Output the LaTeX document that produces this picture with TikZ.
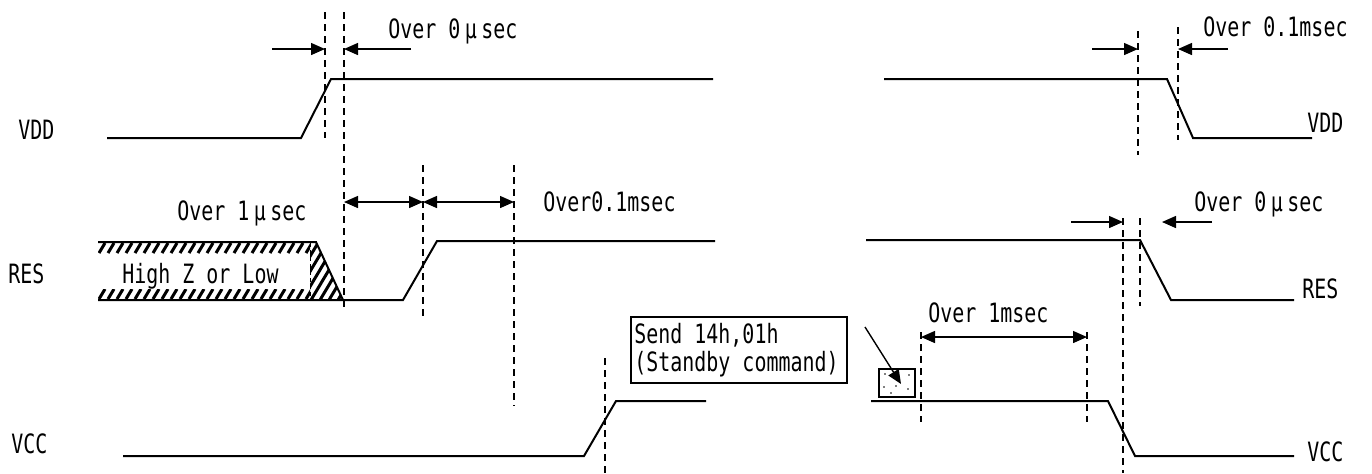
\documentclass[tikz,border=0pt]{standalone}
\usepackage{fontspec}
\setmainfont[FakeStretch=0.75]{DejaVu Sans Mono}
\usetikzlibrary{arrows.meta}
\tikzset{
  sig/.style={line width=1pt},
  guide/.style={line width=0.7pt,dash pattern=on 3.5pt off 2.5pt},
  dim/.style={line width=0.7pt,-{Triangle[length=7pt,width=6pt]}},
  dimboth/.style={line width=0.7pt,{Triangle[length=7pt,width=6pt]}-{Triangle[length=7pt,width=6pt]}},
  lbl/.style={font=\fontsize{13.3pt}{14pt}\selectfont,inner sep=0pt,anchor=west},
  hatch/.style={line width=1.5pt}
}
\begin{document}
\begin{tikzpicture}[x=0.5pt,y=0.5pt,yscale=-1,xscale=1]
\useasboundingbox (0,0) rectangle (1372,473);

%Signals: power on
\draw [sig] (107,138) -- (301,138) -- (331,79) -- (713,79) ;
\draw [sig] (98,242) -- (316,242) -- (343,300) ;
\draw [sig] (98,300) -- (403,300) -- (437,241) -- (715,241) ;
\draw [sig] (123,456) -- (584,456) -- (616,401) -- (706,401) ;

%Signals: power off
\draw [sig] (884,79) -- (1167,79) -- (1193,138) -- (1312,138) ;
\draw [sig] (866,240) -- (1140,240) -- (1171,300) -- (1294,300) ;
\draw [sig] (871,401) -- (1108,401) -- (1135,456) -- (1294,456) ;

%Hatching: High Z or Low
\begin{scope}
\clip (98,243) rectangle (310,253) ;
\foreach \i in {90,99,...,315} \draw [hatch] (\i,253) -- ++(6,-10) ;
\end{scope}
\begin{scope}
\clip (98,289) rectangle (310,299) ;
\foreach \i in {90,99,...,315} \draw [hatch] (\i,299) -- ++(6,-10) ;
\end{scope}
\begin{scope}
\clip (310,242) -- (316,242) -- (343,300) -- (310,300) -- cycle ;
\foreach \i in {266,275,...,350} \draw [hatch] (\i,300) -- ++(34,-57) ;
\end{scope}
\draw [line width=0.5pt,dash pattern=on 2pt off 1.5pt] (310,243) -- (310,300) ;

%Dashed guides
\draw [guide] (325,12) -- (325,138) ;
\draw [guide] (344,12) -- (344,310) ;
\draw [guide] (423,165) -- (423,317) ;
\draw [guide] (514,165) -- (514,406) ;
\draw [guide] (605,358) -- (605,473) ;
\draw [guide] (1138,31) -- (1138,155) ;
\draw [guide] (1178,27) -- (1178,140) ;
\draw [guide] (1123,218) -- (1123,473) ;
\draw [guide] (1140,218) -- (1140,306) ;
\draw [guide] (921,332) -- (921,422) ;
\draw [guide] (1087,332) -- (1087,422) ;

%Timing arrows
\draw [dim] (272,49) -- (325,49) ;
\draw [dim] (411,49) -- (344,49) ;
\draw [dimboth] (344,202) -- (423,202) ;
\draw [dimboth] (423,202) -- (514,202) ;
\draw [dim] (1092,49) -- (1138,49) ;
\draw [dim] (1228,49) -- (1178,49) ;
\draw [dim] (1071,222) -- (1123,222) ;
\draw [dim] (1212,222) -- (1162,222) ;
\draw [dimboth] (921,337) -- (1087,337) ;

%Command box
\draw [line width=0.7pt] (631,317) rectangle (847,383) ;
\draw [line width=0.7pt] (879,369) rectangle (915,397) ;
\foreach \p in {(885,374),(897,372),(909,375),(884,387),(896,386),(908,389),(891,393)} \fill \p circle (0.9) ;
\draw [dim] (865,327) -- (901,384) ;

% Text Node
\draw (18,130) node [lbl] (vddL) {VDD};
% Text Node
\draw (8,274) node [lbl] (resL) {RES};
% Text Node
\draw (11,444) node [lbl] (vccL) {VCC};
% Text Node
\draw (1307,123) node [lbl] (vddR) {VDD};
% Text Node
\draw (1302,289) node [lbl] (resR) {RES};
% Text Node
\draw (1307,452) node [lbl] (vccR) {VCC};
% Text Node
\draw (388,31) node [lbl] (tOnA) {Over 0\,μ\,sec};
% Text Node
\draw (177,213) node [lbl] (tOnB) {Over 1\,μ\,sec};
% Text Node
\draw (543,202) node [lbl] (tOnC) {Over0.1msec};
% Text Node
\draw (122,276) node [lbl] (hiz) {High Z or Low};
% Text Node
\draw (1203,27) node [lbl] (tOffA) {Over 0.1msec};
% Text Node
\draw (1194,204) node [lbl] (tOffB) {Over 0\,μ\,sec};
% Text Node
\draw (928,313) node [lbl] (tOffC) {Over 1msec};
% Text Node
\draw (634,350) node [lbl,align=left] (send) {Send 14h,01h\\(Standby command)};

\end{tikzpicture}
\end{document}
